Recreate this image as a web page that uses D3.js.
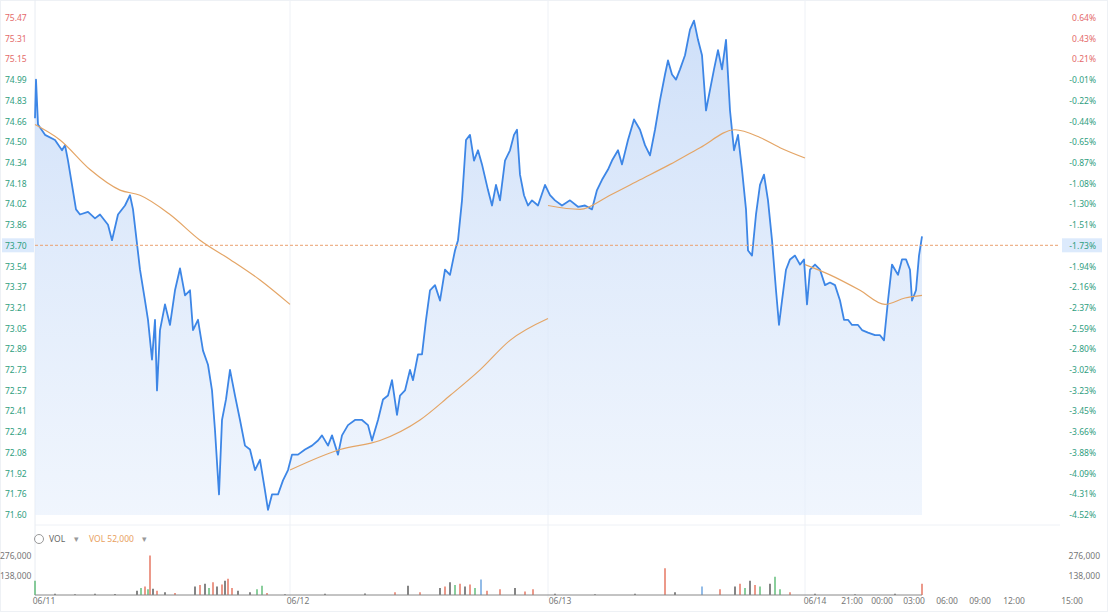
<!DOCTYPE html>
<html><head><meta charset="utf-8">
<script src="https://cdn.jsdelivr.net/npm/d3@7/dist/d3.min.js"></script>
<style>body{margin:0;background:#fff;font-family:"Noto Sans",Arial,sans-serif}</style>
</head><body><svg id="c" width="1108" height="612"></svg>
<script>
const leftTicks=["75.47","75.31","75.15","74.99","74.83","74.66","74.50","74.34","74.18","74.02","73.86","73.70","73.54","73.37","73.21","73.05","72.89","72.73","72.57","72.41","72.24","72.08","71.92","71.76","71.60"];
const rightTicks=["0.64%","0.43%","0.21%","-0.01%","-0.22%","-0.44%","-0.65%","-0.87%","-1.08%","-1.30%","-1.51%","-1.73%","-1.94%","-2.16%","-2.37%","-2.59%","-2.80%","-3.02%","-3.23%","-3.45%","-3.66%","-3.88%","-4.09%","-4.31%","-4.52%"];
const timeLabels=[[9,"06/11"],[263,"06/12"],[525,"06/13"],[780,"06/14"],[817,"21:00"],[847,"00:00"],[879,"03:00"],[912,"06:00"],[945,"09:00"],[979,"12:00"],[1037,"15:00"]];
const dayBounds=[255,513,770];
const lastPrice=73.70;
const price=[[0,74.69],[1,74.99],[3,74.64],[10,74.56],[20,74.52],[27,74.44],[30,74.48],[33,74.36],[37,74.17],[41,73.98],[45,73.94],[53,73.96],[60,73.91],[65,73.94],[73,73.86],[77,73.74],[83,73.94],[90,74.01],[95,74.09],[98,73.98],[101,73.78],[105,73.51],[110,73.27],[113,73.12],[117,72.81],[120,73.12],[122,72.57],[125,73.04],[130,73.24],[135,73.08],[140,73.35],[145,73.52],[150,73.31],[155,73.35],[158,73.04],[163,73.12],[168,72.88],[173,72.77],[177,72.57],[180,72.26],[184,71.76],[187,72.34],[191,72.50],[195,72.73],[200,72.53],[205,72.34],[210,72.14],[215,72.11],[220,71.95],[225,72.03],[230,71.79],[233,71.64],[237,71.76],[243,71.76],[248,71.87],[253,71.95],[257,72.07],[263,72.07],[270,72.11],[277,72.14],[283,72.18],[287,72.22],[293,72.14],[297,72.22],[303,72.07],[307,72.22],[313,72.30],[320,72.34],[327,72.34],[333,72.30],[337,72.18],[343,72.34],[348,72.50],[353,72.53],[357,72.65],[362,72.38],[365,72.53],[370,72.57],[375,72.73],[378,72.65],[383,72.85],[387,72.85],[391,73.12],[395,73.35],[400,73.39],[405,73.27],[410,73.51],[415,73.47],[420,73.66],[423,73.74],[427,74.05],[431,74.52],[435,74.56],[439,74.36],[443,74.44],[447,74.33],[453,74.13],[457,74.01],[461,74.17],[465,74.05],[470,74.36],[475,74.44],[479,74.56],[482,74.60],[485,74.25],[489,74.09],[493,74.01],[497,74.05],[503,74.01],[510,74.17],[515,74.09],[520,74.05],[527,74.01],[535,74.05],[543,74.00],[550,74.01],[557,73.98],[562,74.13],[567,74.21],[573,74.29],[577,74.36],[583,74.44],[587,74.33],[593,74.52],[599,74.68],[605,74.60],[610,74.48],[615,74.40],[620,74.60],[625,74.83],[630,75.03],[633,75.14],[637,75.03],[641,74.99],[645,75.07],[650,75.18],[655,75.38],[659,75.45],[663,75.30],[667,75.18],[671,74.75],[675,74.91],[679,75.07],[683,75.22],[687,75.07],[691,75.30],[695,74.75],[699,74.44],[703,74.56],[707,74.29],[711,73.98],[713,73.66],[717,73.62],[721,73.94],[725,74.17],[729,74.25],[733,74.05],[737,73.74],[741,73.35],[744,73.08],[747,73.27],[751,73.51],[755,73.59],[760,73.62],[765,73.55],[769,73.59],[772,73.24],[775,73.51],[780,73.55],[785,73.51],[790,73.39],[795,73.41],[800,73.39],[805,73.27],[809,73.12],[813,73.12],[817,73.08],[823,73.08],[827,73.04],[833,73.02],[840,73.00],[845,73.00],[849,72.96],[853,73.27],[857,73.55],[860,73.51],[863,73.47],[867,73.59],[871,73.59],[875,73.51],[877,73.27],[881,73.35],[884,73.62],[887,73.77]];
const ma1=[[0,74.64],[25,74.52],[55,74.29],[85,74.13],[105,74.09],[135,73.94],[165,73.74],[195,73.59],[225,73.43],[255,73.24]];
const ma2=[[255,71.95],[305,72.11],[345,72.18],[385,72.34],[415,72.53],[445,72.73],[475,72.96],[513,73.13]];
const ma3=[[513,74.01],[545,73.98],[575,74.09],[605,74.21],[635,74.33],[665,74.46],[700,74.60],[725,74.54],[745,74.46],[770,74.38]];
const ma4=[[770,73.55],[795,73.47],[825,73.35],[850,73.24],[870,73.29],[887,73.31]];
const volume=[[0,100000,"g"],[20,8000,"k"],[40,6000,"k"],[60,9000,"k"],[80,7000,"k"],[102,30000,"k"],[106,50000,"g"],[110,60000,"r"],[113,40000,"g"],[115,280000,"r"],[118,45000,"k"],[122,30000,"r"],[130,20000,"k"],[140,15000,"r"],[160,60000,"k"],[165,70000,"r"],[170,80000,"k"],[174,50000,"g"],[178,90000,"r"],[182,60000,"k"],[187,75000,"r"],[190,100000,"k"],[193,115000,"r"],[197,50000,"r"],[203,30000,"k"],[215,20000,"k"],[222,40000,"g"],[227,65000,"g"],[232,15000,"r"],[250,6000,"k"],[290,8000,"k"],[330,10000,"k"],[360,20000,"r"],[373,65000,"k"],[385,20000,"r"],[405,50000,"k"],[410,60000,"r"],[415,90000,"k"],[420,70000,"g"],[425,80000,"r"],[430,60000,"k"],[435,75000,"r"],[440,50000,"g"],[446,110000,"b"],[452,30000,"r"],[465,40000,"r"],[480,50000,"k"],[490,25000,"r"],[498,40000,"r"],[520,8000,"k"],[560,6000,"k"],[600,8000,"k"],[630,190000,"r"],[640,20000,"k"],[667,60000,"b"],[685,40000,"r"],[700,60000,"k"],[705,80000,"r"],[710,50000,"g"],[715,100000,"k"],[720,70000,"r"],[725,60000,"g"],[735,80000,"k"],[740,130000,"g"],[745,40000,"g"],[755,20000,"r"],[780,8000,"k"],[820,6000,"k"],[860,8000,"k"],[887,80000,"r"]];
const volTicks=[[276000,"276,000"],[138000,"138,000"]];

const svg=d3.select("#c");
const W=1108;
const x=d3.scaleLinear().domain([0,1037]).range([35,1072]);
const y=d3.scaleLinear().domain([71.60,75.47]).range([515,18]);
const yv=d3.scaleLinear().domain([0,276000]).range([595,556]);
const lab=d3.scaleLinear().domain([0,24]).range([18,515]);
const lab2=d3.scalePoint().domain(leftTicks).range([18,515]);

// frame
svg.append("rect").attr("x",0.5).attr("y",0.5).attr("width",W-1).attr("height",611).attr("fill","none").attr("stroke","#eef1f5");
// day dividers
svg.selectAll(".dv").data(dayBounds).join("line").attr("x1",d=>x(d)).attr("x2",d=>x(d)).attr("y1",0).attr("y2",598).attr("stroke","#eef1f6");
svg.append("line").attr("x1",35).attr("x2",1060).attr("y1",525).attr("y2",525).attr("stroke","#eef1f6");
svg.append("line").attr("x1",35).attr("x2",35).attr("y1",0).attr("y2",598).attr("stroke","#e8ecf2");

// area
const defs=svg.append("defs");
const g=defs.append("linearGradient").attr("id","ag").attr("x1",0).attr("x2",0).attr("y1",0).attr("y2",1);
g.append("stop").attr("offset","0%").attr("stop-color","#c9dcf8").attr("stop-opacity",0.9);
g.append("stop").attr("offset","100%").attr("stop-color","#e6effc").attr("stop-opacity",0.6);
svg.append("path").datum(price).attr("fill","url(#ag)")
 .attr("d",d3.area().x(d=>x(d[0])).y0(y(71.60)).y1(d=>y(d[1])));
svg.append("path").datum(price).attr("fill","none").attr("stroke","#3d86e6").attr("stroke-width",1.8).attr("stroke-linejoin","round")
 .attr("d",d3.line().x(d=>x(d[0])).y(d=>y(d[1])));
[ma1,ma2,ma3,ma4].forEach(m=>svg.append("path").datum(m).attr("fill","none").attr("stroke","#e4a566").attr("stroke-width",1.2)
 .attr("d",d3.line().curve(d3.curveMonotoneX).x(d=>x(d[0])).y(d=>y(d[1]))));
// last price line
svg.append("line").attr("x1",35).attr("x2",1060).attr("y1",y(lastPrice)).attr("y2",y(lastPrice)).attr("stroke","#eaa070").attr("stroke-dasharray","3,2").attr("stroke-width",1);

// left labels
svg.selectAll(".lt").data(leftTicks).join("text").attr("x",5).attr("y",d=>lab2(d)+3).attr("font-size",8.5)
 .attr("fill",(d,i)=>i<3?"#e46a6a":"#2f9e80").text(d=>d);
svg.selectAll(".rt").data(rightTicks).join("text").attr("x",1096).attr("text-anchor","end").attr("y",(d,i)=>lab(i)+3).attr("font-size",8.5)
 .attr("fill",(d,i)=>i<3?"#e46a6a":"#2f9e80").text(d=>d);
// highlights
svg.insert("rect","text").attr("x",2).attr("y",y(lastPrice)-7).attr("width",32).attr("height",14).attr("fill","#dceafc");
svg.insert("rect","text").attr("x",1062).attr("y",y(lastPrice)-7).attr("width",40).attr("height",14).attr("fill","#dceafc");

// volume
const vc={g:"#3cae5a",r:"#e0553c",k:"#333",b:"#4b8fd8"};
svg.selectAll(".vb").data(volume).join("line").attr("x1",d=>x(d[0])).attr("x2",d=>x(d[0])).attr("y1",595).attr("y2",d=>yv(d[1]))
 .attr("stroke",d=>vc[d[2]]).attr("stroke-width",1.2);
svg.append("line").attr("x1",35).attr("x2",x(887)).attr("y1",595).attr("y2",595).attr("stroke","#888").attr("stroke-width",1);
volTicks.forEach(t=>{
 svg.append("text").attr("x",0).attr("y",yv(t[0])+3).attr("font-size",8.5).attr("fill","#777").text(t[1]);
 svg.append("text").attr("x",1100).attr("text-anchor","end").attr("y",yv(t[0])+3).attr("font-size",8.5).attr("fill","#777").text(t[1]);
});
// legend
svg.append("circle").attr("cx",39).attr("cy",539).attr("r",4.5).attr("fill","none").attr("stroke","#999");
svg.append("text").attr("x",49).attr("y",542).attr("font-size",8.5).attr("fill","#666").text("VOL");
svg.append("text").attr("x",74).attr("y",542).attr("font-size",8.5).attr("fill","#999").text("▾");
svg.append("text").attr("x",89).attr("y",542).attr("font-size",8.5).attr("fill","#e8a060").text("VOL 52,000");
svg.append("text").attr("x",142).attr("y",542).attr("font-size",8.5).attr("fill","#999").text("▾");
// time labels
svg.selectAll(".tl").data(timeLabels).join("text").attr("x",d=>x(d[0])).attr("y",604).attr("text-anchor","middle")
 .attr("font-size",8.5).attr("fill","#777").text(d=>d[1]);
</script></body></html>
